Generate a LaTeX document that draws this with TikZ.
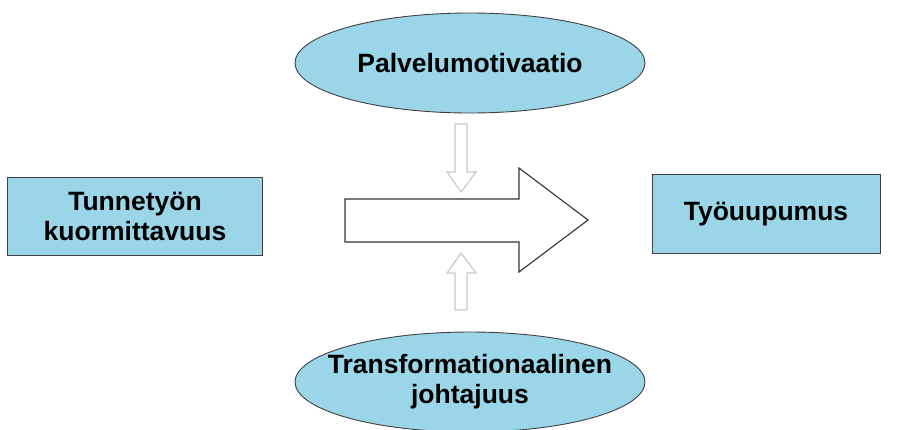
\documentclass[tikz,border=0pt]{standalone}
\usepackage{fontspec}
\setmainfont{Liberation Sans}
\usepackage{xcolor}
\usetikzlibrary{shapes.geometric}
\usetikzlibrary{positioning}
\definecolor{paleblue}{RGB}{155,214,232}
\definecolor{palegray}{RGB}{200,200,200}

\begin{document}
\begin{tikzpicture}[x=1pt, y=-1pt]
  \tikzstyle{every node}=[font=\bfseries\fontsize{26.5}{30}\selectfont, align=center, inner sep=0pt]
  \tikzstyle{box}=[rectangle, draw=black!75, line width=0.9pt, fill=paleblue]
  \tikzstyle{oval}=[ellipse, draw=black!75, line width=0.9pt, fill=paleblue, inner xsep=-45pt, inner ysep=-12pt, minimum width=350pt, minimum height=100pt]
  \tikzstyle{bigarrow}=[draw=black!80, line width=1.1pt, fill=white, line join=miter]
  \tikzstyle{smallarrow}=[draw=palegray, line width=1.1pt, fill=white]
  \useasboundingbox (0,0) rectangle (897,429);
  % the four concepts
  \node[oval] (pm) at (470,63) {Palvelumotivaatio};
  \node[oval] (tj) at (470,382) {Transformationaalinen\\johtajuus};
  \node[box, minimum width=255pt, minimum height=78pt] (tk) at (135,216) {Tunnetyön\\kuormittavuus};
  \node[box, minimum width=228pt, minimum height=79pt] (tu) at (766,214) {Työuupumus};
  % main effect
  \draw[bigarrow] (345,199) -- (519,199) -- (519,168) -- (588,220) -- (519,272) -- (519,242) -- (345,242) -- cycle;
  % moderators
  \draw[smallarrow] (455,124) -- (467,124) -- (467,172) -- (476,172) -- (461,192) -- (447,172) -- (455,172) -- cycle;
  \draw[smallarrow] (461,253) -- (476,273) -- (467,273) -- (467,310) -- (455,310) -- (455,273) -- (447,273) -- cycle;
\end{tikzpicture}
\end{document}
